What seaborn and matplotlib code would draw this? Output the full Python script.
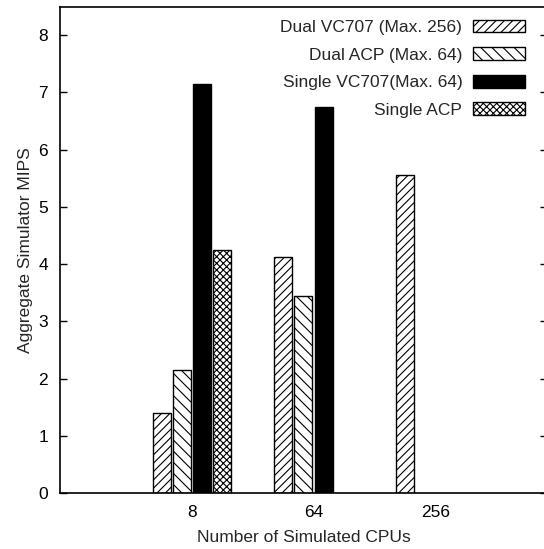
import numpy as np
import pandas as pd
import matplotlib
matplotlib.use("Agg")
import matplotlib.pyplot as plt
from matplotlib.patches import Patch
import seaborn as sns

cpus = ["8", "64", "256"]
series = ["Dual VC707 (Max. 256)", "Dual ACP (Max. 64)", "Single VC707(Max. 64)", "Single ACP"]
dual_vc707 = [1.40, 4.12, 5.55]
dual_acp = [2.15, 3.44, np.nan]
single_vc707 = [7.15, 6.75, np.nan]
single_acp = [4.25, np.nan, np.nan]

fills = ["white", "white", "black", "white"]
hatches = ["////", "\\\\\\", "", "xxxxx"]

rows = []
for name, vals in zip(series, [dual_vc707, dual_acp, single_vc707, single_acp]):
    for c, v in zip(cpus, vals):
        if not np.isnan(v):
            rows.append({"cpus": c, "series": name, "mips": v})
df = pd.DataFrame(rows)

sns.set_style("white")
plt.rcParams["font.family"] = ["Liberation Sans", "DejaVu Sans"]
plt.rcParams["hatch.linewidth"] = 0.8
fs = 12.5

fig = plt.figure(figsize=(5.44, 5.49), dpi=100)
ax = fig.add_axes([60 / 544, 1 - 493 / 549, (547 - 60) / 544, (493 - 7) / 549])

sns.barplot(data=df, x="cpus", y="mips", hue="series", order=cpus, hue_order=series,
            palette=dict(zip(series, fills)), width=4 / 6, gap=0.11,
            edgecolor="black", linewidth=1, legend=False, ax=ax)

for cont, h in zip(ax.containers, hatches):
    for bar in cont:
        bar.set_hatch(h)

ax.set_xlim(-1.086, 2.92)
ax.set_ylim(0, 8.49)
ax.set_yticks(range(9))
ax.set_xlabel("Number of Simulated CPUs", fontsize=fs, labelpad=7.5)
ax.set_ylabel("Aggregate Simulator MIPS", fontsize=fs, labelpad=4)

for s in ax.spines.values():
    s.set_linewidth(1.2)
    s.set_color("black")
ax.tick_params(axis="y", direction="in", length=5, width=1, left=True, right=True,
               labelsize=fs, pad=8.5, colors="black")
ax.tick_params(axis="x", length=0, labelsize=fs, pad=8.7, colors="black")

handles = [Patch(facecolor=f, edgecolor="black", hatch=h, linewidth=1)
           for f, h in zip(fills, hatches)]
ax.legend(handles, series, loc="upper right", bbox_to_anchor=(525 / 544, 0.964),
          bbox_transform=fig.transFigure, frameon=False, markerfirst=False,
          fontsize=fs, handlelength=2.98, handleheight=0.75, handletextpad=0.63,
          borderpad=0, borderaxespad=0, labelspacing=0.7)

fig.savefig("out.png", dpi=100)
